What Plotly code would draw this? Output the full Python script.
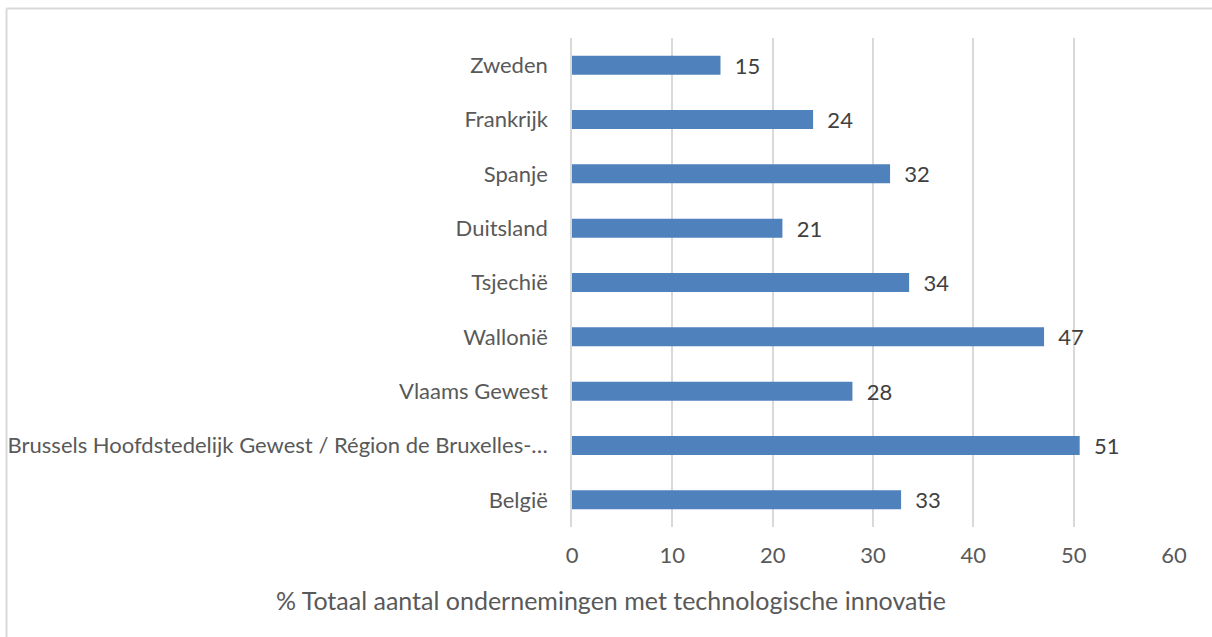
import plotly.graph_objects as go

categories = ["België", "Brussels Hoofdstedelijk Gewest / Région de Bruxelles-…",
              "Vlaams Gewest", "Wallonië", "Tsjechië", "Duitsland", "Spanje",
              "Frankrijk", "Zweden"]
values = [32.8, 50.6, 27.95, 47.05, 33.6, 20.97, 31.7, 24.03, 14.8]
x_ticks = [0, 10, 20, 30, 40, 50, 60]
x_title = "% Totaal aantal ondernemingen met technologische innovatie"

FONT = "Lato"
W, H = 1212, 637
L, R, T, B = 572, 38, 38, 110
pw = W - L - R

fig = go.Figure(go.Bar(
    y=categories, x=values, orientation="h",
    marker=dict(color="#4F81BD", line=dict(width=0)),
    texttemplate="  %{x:.0f}", textposition="outside", cliponaxis=False,
    constraintext="none",
    textfont=dict(family=FONT, size=22, color="#404040"),
))

fig.update_layout(
    width=W, height=H, margin=dict(l=L, r=R, t=T, b=B),
    plot_bgcolor="white", paper_bgcolor="white", showlegend=False,
    bargap=0.65,
    font=dict(family=FONT, size=22, color="#595959"),
    xaxis=dict(range=[0, 60], tickvals=x_ticks, showgrid=True,
               gridcolor="#D9D9D9", gridwidth=1.5, zeroline=False,
               showline=False, ticks="", ticklabelstandoff=13,
               tickfont=dict(family=FONT, size=22, color="#595959")),
    yaxis=dict(showgrid=False, showline=True, linecolor="#D9D9D9", linewidth=1.5,
               ticks="", ticklabelstandoff=18, automargin=False,
               tickfont=dict(family=FONT, size=22, color="#595959")),
    annotations=[dict(text=x_title, xref="paper", yref="paper",
                      x=(611 - L) / pw, y=-(600 - (H - B)) / (H - T - B),
                      xanchor="center", yanchor="middle", showarrow=False,
                      font=dict(family=FONT, size=25, color="#595959"))],
    shapes=[
        dict(type="line", xref="paper", yref="paper", xsizemode="pixel", ysizemode="pixel",
             xanchor=0, yanchor=1, x0=6.5 - L, x1=6.5 - L, y0=T - 8.5, y1=-H,
             line=dict(color="#D9D9D9", width=2)),
        dict(type="line", xref="paper", yref="paper", xsizemode="pixel", ysizemode="pixel",
             xanchor=0, yanchor=1, x0=6.5 - L, x1=W, y0=T - 8.5, y1=T - 8.5,
             line=dict(color="#D9D9D9", width=2)),
    ],
)

fig.write_html("out.html", config={"displayModeBar": False},
               post_script="document.body.style.margin='0';")
